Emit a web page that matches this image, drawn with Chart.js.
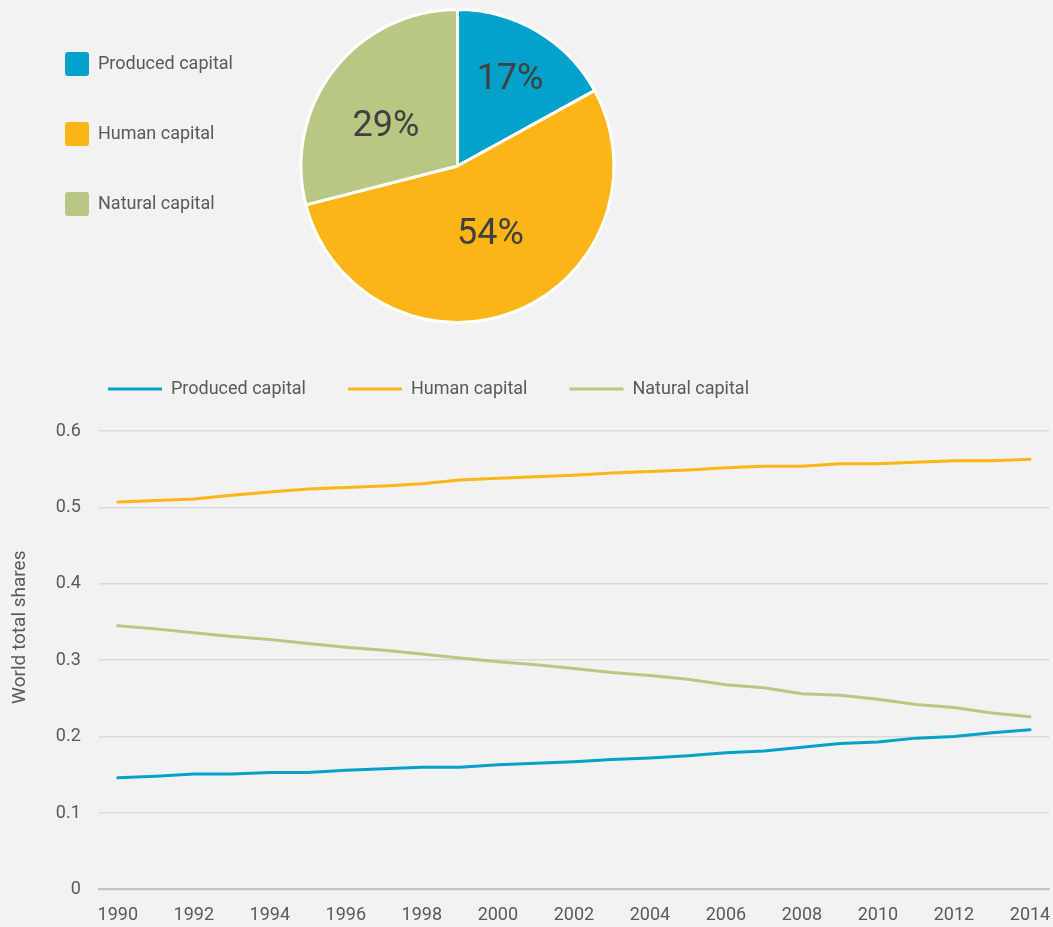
<!DOCTYPE html>
<html>
<head>
<meta charset="utf-8">
<script src="https://cdn.jsdelivr.net/npm/chart.js@4.4.0/dist/chart.umd.min.js"></script>
<style>
  html, body { margin: 0; padding: 0; background: #f2f2f2; }
  body { width: 1053px; height: 927px; position: relative; overflow: hidden; }
  #pie { position: absolute; left: 0; top: 0; }
  #lines { position: absolute; left: 0; top: 340px; }
</style>
</head>
<body>
<canvas id="pie" width="672" height="332"></canvas>
<canvas id="lines" width="1053" height="587"></canvas>
<script>
const capitalNames = ['Produced capital', 'Human capital', 'Natural capital'];
const capitalColors = ['#04a2cb', '#fbb516', '#b8c784'];
const shares2014 = [17, 54, 29];

const years = ['1990', '1991', '1992', '1993', '1994', '1995', '1996', '1997', '1998', '1999',
               '2000', '2001', '2002', '2003', '2004', '2005', '2006', '2007', '2008', '2009',
               '2010', '2011', '2012', '2013', '2014'];
const produced = [0.146, 0.148, 0.151, 0.151, 0.153, 0.153, 0.156, 0.158, 0.160, 0.160,
                  0.163, 0.165, 0.167, 0.170, 0.172, 0.175, 0.179, 0.181, 0.186, 0.191,
                  0.193, 0.198, 0.200, 0.205, 0.209];
const human = [0.507, 0.509, 0.511, 0.516, 0.520, 0.524, 0.526, 0.528, 0.531, 0.536,
               0.538, 0.540, 0.542, 0.545, 0.547, 0.549, 0.552, 0.554, 0.554, 0.557,
               0.557, 0.559, 0.561, 0.561, 0.563];
const natural = [0.345, 0.341, 0.336, 0.331, 0.327, 0.322, 0.317, 0.313, 0.308, 0.303,
                 0.298, 0.294, 0.289, 0.284, 0.280, 0.275, 0.268, 0.264, 0.256, 0.254,
                 0.249, 0.242, 0.238, 0.231, 0.226];

const textColor = '#595959';
Chart.defaults.font.family = 'Roboto, "Open Sans", sans-serif';
Chart.defaults.font.size = 18;
Chart.defaults.color = textColor;

// moves the legend block after layout (the library ties its offset to item spacing)
const legendNudge = {
    id: 'legendNudge',
    afterLayout(chart, args, opts) {
        const lg = chart.legend;
        if (!lg) return;
        lg.left += opts.dx || 0;
        lg.right += opts.dx || 0;
        lg.top += opts.dy || 0;
        lg.bottom += opts.dy || 0;
    }
};

// percentage text inside each slice
const sliceLabels = {
    id: 'sliceLabels',
    afterDatasetsDraw(chart, args, opts) {
        const ctx = chart.ctx;
        const meta = chart.getDatasetMeta(0);
        ctx.save();
        ctx.font = '36px Roboto, sans-serif';
        ctx.fillStyle = '#404040';
        ctx.textAlign = 'center';
        ctx.textBaseline = 'middle';
        meta.data.forEach((arc, i) => {
            const mid = (arc.startAngle + arc.endAngle) / 2 + opts.turn[i] * Math.PI / 180;
            const r = arc.outerRadius * opts.dist[i];
            ctx.fillText(chart.data.datasets[0].data[i] + '%',
                         arc.x + Math.cos(mid) * r, arc.y + Math.sin(mid) * r + opts.drop);
        });
        ctx.restore();
    }
};

new Chart(document.getElementById('pie').getContext('2d'), {
    type: 'pie',
    data: {
        labels: capitalNames,
        datasets: [{
            data: shares2014,
            backgroundColor: capitalColors,
            borderColor: '#ffffff',
            borderWidth: 3
        }]
    },
    options: {
        responsive: false,
        animation: false,
        layout: { padding: { left: 19, top: 8, bottom: 8, right: 0 } },
        plugins: {
            legend: {
                position: 'left',
                align: 'start',
                labels: {
                    boxWidth: 24,
                    boxHeight: 24,
                    padding: 46,
                    useBorderRadius: true,
                    borderRadius: 3,
                    color: textColor,
                    generateLabels(chart) {
                        const items = Chart.overrides.pie.plugins.legend.labels.generateLabels(chart);
                        items.forEach(it => { it.lineWidth = 0; it.strokeStyle = it.fillStyle; });
                        return items;
                    }
                }
            },
            tooltip: { enabled: false },
            legendNudge: { dx: 0, dy: -2 },
            sliceLabels: { dist: [0.66, 0.47, 0.53], turn: [0, -5, -7.5], drop: 3 }
        }
    },
    plugins: [legendNudge, sliceLabels]
});

const lineSet = (label, data, color) => ({
    label: label,
    data: data,
    borderColor: color,
    backgroundColor: color,
    borderWidth: 3,
    borderCapStyle: 'round',
    pointRadius: 0,
    pointHoverRadius: 0,
    tension: 0
});

new Chart(document.getElementById('lines').getContext('2d'), {
    type: 'line',
    data: {
        labels: years,
        datasets: [
            lineSet(capitalNames[0], produced, capitalColors[0]),
            lineSet(capitalNames[1], human, capitalColors[1]),
            lineSet(capitalNames[2], natural, capitalColors[2])
        ]
    },
    options: {
        responsive: false,
        animation: false,
        layout: { padding: { left: 4, top: 21, right: 4, bottom: -14 } },
        scales: {
            x: {
                offset: true,
                grid: { display: false, drawTicks: false },
                border: { display: true, color: '#c4c4c4', width: 2 },
                afterFit(scale) { scale.paddingRight = 0; },
                ticks: {
                    autoSkip: false,
                    maxRotation: 0,
                    padding: 15,
                    color: textColor,
                    callback: function (val, i) {
                        return i % 2 === 0 ? this.getLabelForValue(val) : '';
                    }
                }
            },
            y: {
                min: 0,
                max: 0.6,
                ticks: { stepSize: 0.1, padding: 18, color: textColor },
                grid: { color: '#dadada', lineWidth: 1.5, drawTicks: false },
                border: { display: false },
                title: {
                    display: true,
                    // leading blanks lift the centred title a little, as in the original
                    text: '\u00a0'.repeat(14) + 'World total shares',
                    color: textColor,
                    font: { size: 19 },
                    padding: { top: 5, bottom: 6 }
                }
            }
        },
        plugins: {
            legend: {
                position: 'top',
                align: 'start',
                labels: {
                    usePointStyle: true,
                    pointStyle: 'line',
                    pointStyleWidth: 54,
                    padding: 42,
                    color: textColor
                }
            },
            tooltip: { enabled: false },
            legendNudge: { dx: 62, dy: -23 }
        }
    },
    plugins: [legendNudge]
});
</script>
</body>
</html>
